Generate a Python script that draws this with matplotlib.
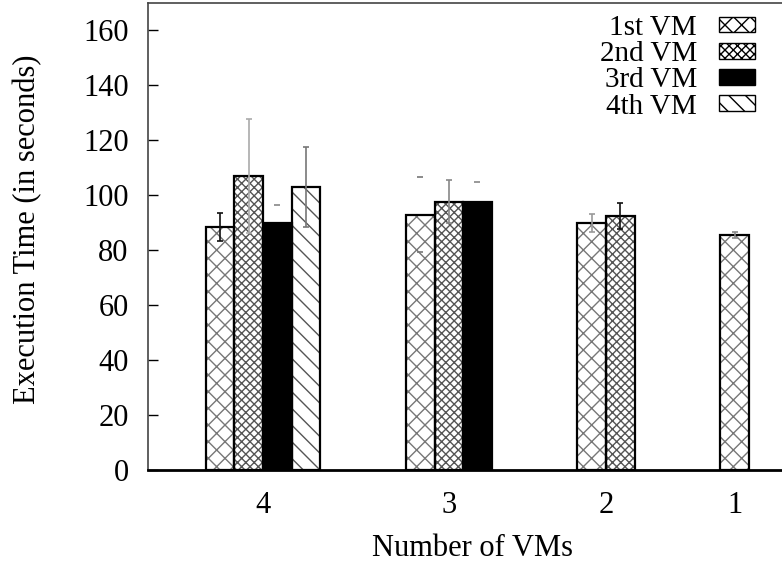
import matplotlib
matplotlib.use("Agg")
import matplotlib.pyplot as plt
from matplotlib.patches import Patch
import numpy as np

plt.rcParams['font.family'] = ['Liberation Serif', 'DejaVu Serif']
plt.rcParams['hatch.linewidth'] = 1.0

groups = ["4", "3", "2", "1"]
series = ["1st VM", "2nd VM", "3rd VM", "4th VM"]
values = [
    [88.5, 107.0, 90.0, 103.0],
    [93.0, 97.7, 97.7],
    [90.0, 92.4],
    [85.7],
]
errors = [
    [5.1, 20.8, 6.3, 14.7],
    [13.6, 7.8, 7.1],
    [3.3, 4.7],
    [1.1],
]
err_colors = [
    ["#111111", "#aaaaaa", "#888888", "#777777"],
    ["#777777", "#888888", "#888888"],
    ["#999999", "#111111"],
    ["#888888"],
]
err_line_visible = [
    [True, True, False, True],
    [False, True, False],
    [True, True],
    [True],
]
err_behind = [
    [False, False, True, False],
    [False, False, True],
    [False, False],
    [False],
]

hatches = ["xx", "xxxx", None, "\\\\"]
hatch_colors = ["#777777", "#555555", "black", "#555555"]
faces = ["white", "white", "black", "white"]

FS = 22
LFS = 21
fig = plt.figure(figsize=(7.82, 5.64), dpi=100)
left = 148 / 782
bottom = 94 / 564
height = 467 / 564
ax = fig.add_axes([left, bottom, 1.02 - left, height])

gap = 3.0
width = 1.0
centers = []
pos = 0.0
prev_n = None
for g, vals in enumerate(values):
    n = len(vals)
    if prev_n is not None:
        pos += prev_n / 2 + gap + n / 2
    centers.append(pos)
    prev_n = n
    for s, v in enumerate(vals):
        x = pos + (s - (n - 1) / 2) * width
        ax.bar(x, v, width=width, color=faces[s], edgecolor=hatch_colors[s],
               hatch=hatches[s], linewidth=0, zorder=2)
        ax.bar(x, v, width=width, fill=False, edgecolor="black",
               linewidth=1.6, zorder=3)
        c = err_colors[g][s]
        z = 1 if err_behind[g][s] else 4
        eb = ax.errorbar(x, v, yerr=errors[g][s], fmt="none", ecolor=c,
                         elinewidth=1.2, capsize=2.5, capthick=1.2, zorder=z)
        if not err_line_visible[g][s]:
            for lc in eb[2]:
                lc.set_visible(False)

ax.set_xticks(centers)
ax.set_xticklabels(groups)
ax.set_xlim(-4.02, 18.7)
ax.set_ylim(0, 170)
ax.set_yticks(np.arange(0, 161, 20))

ax.tick_params(axis='y', direction='in', length=7, width=1, labelsize=FS, pad=14)
ax.tick_params(axis='x', length=0, labelsize=FS, pad=15)
ax.spines['right'].set_visible(False)
for sp in ['left', 'top']:
    ax.spines[sp].set_color('#444444')
    ax.spines[sp].set_linewidth(1.2)
ax.spines['bottom'].set_linewidth(2)

ax.set_ylabel("Execution Time (in seconds)", fontsize=FS)
ax.yaxis.set_label_coords(-0.163, 0.515)
ax.set_xlabel("Number of VMs", fontsize=FS, labelpad=10)

handles = []
for s in range(4):
    handles.append(Patch(facecolor=faces[s], edgecolor="black", hatch=hatches[s], linewidth=1))
leg = ax.legend(handles, series, loc="upper right", bbox_to_anchor=(0.934, 0.9746),
                frameon=False, markerfirst=False, fontsize=LFS,
                handlelength=1.23, handleheight=0.46, labelspacing=0.01,
                handletextpad=0.75, borderaxespad=0.0, borderpad=0.0)

fig.savefig("out.png", dpi=100)
